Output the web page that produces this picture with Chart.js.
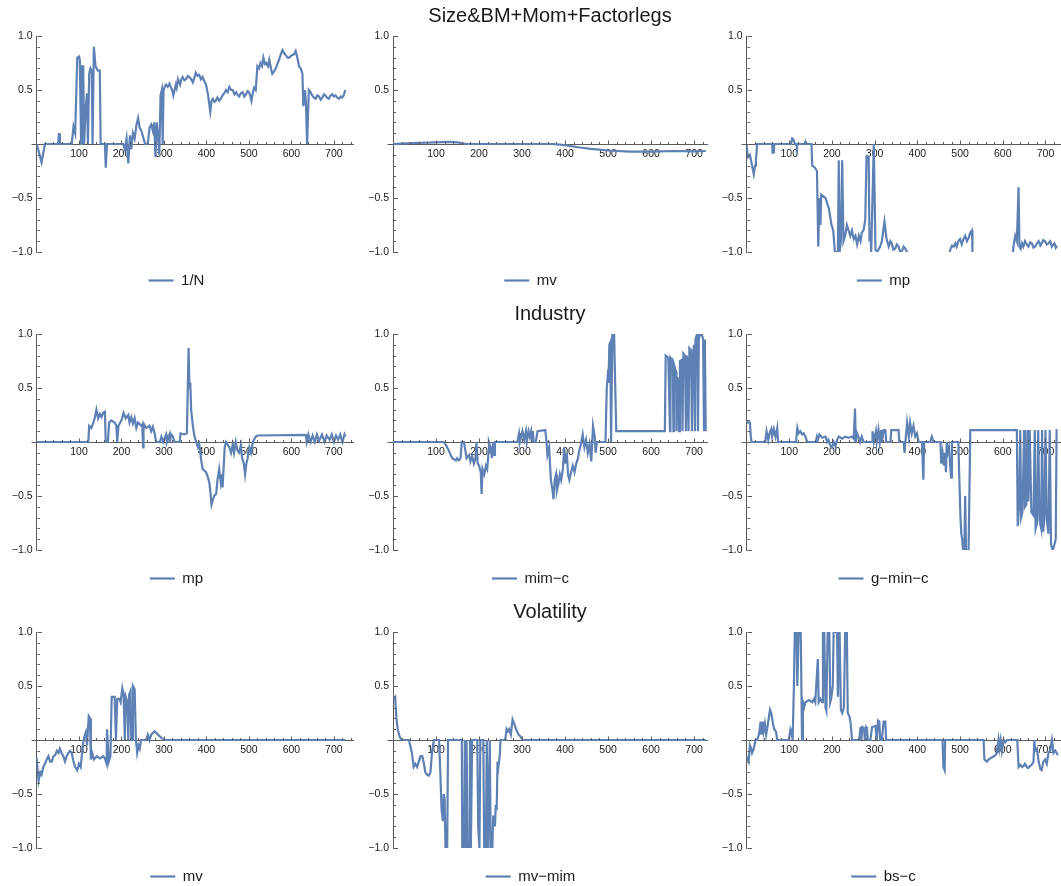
<!DOCTYPE html>
<html><head><meta charset="utf-8">
<script src="https://cdn.jsdelivr.net/npm/chart.js@4.4.1/dist/chart.umd.min.js"></script>
<style>
html,body{margin:0;padding:0;background:#fff;}
#wrap{position:relative;width:1061px;height:886px;overflow:hidden;background:#fff;}
.cell{position:absolute;width:354px;height:298px;}
</style></head><body><div id="wrap"></div>
<script>
// ---- data ----
const rowTitles = ['Size&BM+Mom+Factorlegs', 'Industry', 'Volatility'];
const seriesNames = ['1/N', 'mv', 'mp', 'mp', 'mim\u2212c', 'g\u2212min\u2212c', 'mv', 'mv\u2212mim', 'bs\u2212c'];
const xTickValues = [100, 200, 300, 400, 500, 600, 700];
const yTickValues = [-1, -0.5, 0.5, 1];
const yTickLabels = ['\u22121.0', '\u22120.5', '0.5', '1.0'];

const sizeBM_1N = [[0,0],[4,-0.05],[12,-0.17],[16,-0.08],[20,0],[51,0],[53,0.1],[55,0],[83,0],[87,0.16],[91,0.1],[96,0.8],[100,0.81],[102,0.78],[105,0],[107,0.72],[110,0.72],[112,0],[116,0.35],[119,0.47],[121,0],[124,0.65],[127,0.7],[130,0.68],[132,0],[135,0.9],[139,0.72],[144,0.68],[149,0.68],[151,0],[161,0],[163,-0.22],[166,0],[204,0],[208,-0.05],[212,0.05],[216,-0.18],[220,0.08],[223,-0.05],[227,0.1],[231,0.05],[235,0.17],[239,0.24],[243,0.15],[247,0.12],[252,0.05],[256,0],[262,0],[266,0.15],[270,0.18],[274,0.12],[277,0.2],[280,-0.12],[283,0.2],[286,0.08],[289,-0.1],[292,0.45],[295,0.5],[297,0],[299,0.5],[302,0.53],[305,0.55],[309,0.53],[313,0.56],[317,0.52],[320,0.49],[322,0.45],[325,0.5],[328,0.55],[330,0.52],[333,0.6],[336,0.57],[338,0.55],[341,0.6],[344,0.62],[348,0.59],[352,0.6],[356,0.63],[360,0.62],[364,0.6],[368,0.57],[372,0.62],[375,0.66],[379,0.63],[383,0.64],[387,0.6],[391,0.62],[395,0.58],[399,0.55],[404,0.45],[409,0.3],[412,0.4],[415,0.42],[419,0.39],[422,0.4],[426,0.43],[430,0.4],[434,0.42],[438,0.45],[442,0.47],[446,0.5],[450,0.48],[454,0.53],[458,0.5],[462,0.5],[466,0.46],[470,0.48],[474,0.45],[477,0.44],[481,0.47],[485,0.48],[489,0.44],[493,0.46],[497,0.49],[500,0.48],[503,0.45],[506,0.4],[509,0.47],[512,0.52],[516,0.5],[520,0.72],[524,0.7],[527,0.75],[531,0.72],[534,0.8],[538,0.74],[541,0.75],[545,0.72],[548,0.78],[552,0.7],[555,0.65],[559,0.67],[563,0.7],[567,0.74],[571,0.78],[575,0.83],[579,0.87],[583,0.84],[587,0.82],[591,0.8],[595,0.8],[600,0.82],[606,0.83],[610,0.86],[614,0.8],[618,0.72],[622,0.7],[626,0.65],[628,0.35],[632,0.5],[634,0.4],[637,0],[641,0.5],[645,0.48],[649,0.45],[653,0.43],[657,0.42],[661,0.45],[665,0.44],[669,0.41],[673,0.43],[677,0.46],[680,0.45],[684,0.43],[688,0.42],[692,0.45],[696,0.46],[700,0.44],[704,0.45],[708,0.43],[712,0.42],[716,0.44],[719,0.43],[723,0.45],[727,0.5]];

const sizeBM_mv = [[0,0],[30,0.005],[60,0.01],[100,0.015],[130,0.02],[150,0.015],[170,0],[370,0],[400,-0.01],[430,-0.03],[460,-0.045],[500,-0.06],[550,-0.07],[600,-0.07],[650,-0.065],[700,-0.068],[727,-0.065]];

const sizeBM_mp = [[0,0],[3,-0.12],[8,-0.1],[13,-0.2],[17,-0.28],[20,-0.2],[22,-0.15],[25,0],[60,0],[61,-0.08],[64,-0.08],[65,0],[104,0],[107,0.05],[110,0.04],[113,0],[116,0],[118,-0.03],[120,0],[136,0],[138,0.02],[140,0],[152,0],[154,-0.2],[160,-0.22],[165,-0.25],[168,-0.95],[171,-0.5],[173,-0.75],[175,-0.47],[185,-0.5],[193,-0.6],[199,-0.75],[203,-0.8],[207,-1.0],[214,-1.0],[216,-0.15],[218,-1.0],[221,-0.9],[224,-0.15],[227,-0.9],[231,-0.85],[235,-0.75],[239,-0.8],[243,-0.85],[247,-0.8],[251,-0.88],[255,-0.85],[259,-0.93],[263,-0.85],[267,-0.9],[270,-0.82],[274,-0.8],[278,-0.7],[281,-0.12],[286,-0.12],[288,-0.9],[290,-0.8],[292,-1.0],[298,0],[302,-0.98],[306,-1.0],[313,-0.95],[317,-0.9],[323,-0.72],[328,-0.88],[333,-0.95],[337,-0.9],[340,-0.92],[344,-0.98],[348,-0.97],[352,-0.93],[356,-0.95],[360,-1.0],[364,-0.99],[368,-0.95],[372,-0.97],[376,-1.0],[380,-1.1],[470,-1.1],[477,-0.98],[481,-0.94],[485,-0.95],[489,-0.92],[492,-0.95],[496,-0.9],[500,-0.88],[504,-0.93],[508,-0.88],[512,-0.85],[516,-0.9],[520,-0.87],[524,-0.82],[528,-0.8],[529,-1.0],[532,-1.1],[622,-1.1],[625,-0.95],[629,-0.85],[633,-0.9],[637,-0.4],[639,-0.95],[642,-0.97],[645,-0.92],[648,-0.95],[652,-0.9],[656,-0.93],[660,-0.95],[664,-0.91],[668,-0.92],[672,-0.96],[676,-0.95],[680,-0.92],[684,-0.9],[688,-0.94],[691,-0.92],[695,-0.89],[699,-0.9],[703,-0.93],[707,-0.92],[711,-0.9],[715,-0.95],[718,-0.93],[721,-0.92],[724,-0.96],[727,-0.94]];

const industry_mp = [[0,0],[122,0],[124,0.15],[129,0.13],[133,0.17],[137,0.22],[141,0.3],[145,0.22],[149,0.26],[153,0.23],[157,0.27],[161,0.28],[163,0],[168,0],[171,0.18],[176,0.2],[184,0.18],[188,0.15],[190,0],[193,0.15],[200,0.2],[205,0.27],[210,0.22],[216,0.25],[219,0.18],[223,0.23],[227,0.17],[231,0.22],[235,0.13],[239,0.18],[247,0.15],[249,0.16],[251,-0.05],[252,0.17],[258,0.13],[266,0.15],[270,0.1],[274,0.14],[278,0.08],[282,0],[290,0],[294,0.05],[298,0],[305,0.07],[307,0],[313,0.07],[314,0],[317,0.07],[321,0.05],[325,0],[337,0],[339,0.08],[348,0.07],[354,0.08],[358,0.87],[360,0.5],[362,0.55],[364,0.3],[368,0.15],[372,0.05],[376,0],[380,-0.05],[383,-0.02],[387,-0.15],[391,-0.25],[399,-0.28],[403,-0.32],[407,-0.38],[409,-0.45],[412,-0.58],[418,-0.5],[423,-0.48],[426,-0.35],[430,-0.25],[434,-0.38],[437,-0.3],[438,-0.42],[443,-0.05],[446,0],[454,-0.05],[458,-0.1],[462,-0.02],[465,-0.1],[469,0],[473,-0.08],[477,-0.1],[481,-0.03],[484,-0.15],[488,-0.2],[491,-0.3],[494,-0.2],[497,-0.15],[501,-0.05],[505,-0.1],[509,0],[516,0.05],[520,0.06],[634,0.065],[636,0],[640,0.07],[645,0],[650,0.06],[655,0],[660,0.07],[665,0.01],[672,0.07],[678,0],[683,0.06],[690,0.02],[695,0.07],[700,0],[705,0.06],[710,0.02],[715,0.07],[720,0],[725,0.07],[727,0.05]];

const industry_mimc = [[0,0],[118,0],[122,-0.02],[130,-0.08],[134,-0.12],[138,-0.15],[146,-0.17],[149,-0.15],[153,-0.17],[157,-0.15],[160,0],[165,0],[167,-0.05],[171,-0.15],[177,-0.12],[180,-0.18],[184,-0.13],[188,-0.2],[192,-0.15],[194,0],[197,-0.2],[200,-0.22],[204,-0.28],[206,-0.48],[208,-0.25],[212,-0.3],[216,-0.22],[219,-0.25],[222,-0.1],[223,0],[227,-0.05],[230,-0.15],[233,0],[235,-0.12],[237,0],[289,0],[293,0.08],[295,0],[301,0.1],[305,0.02],[309,0.1],[311,0],[315,0.1],[318,0.05],[321,0.1],[323,0],[325,0.1],[327,0],[332,0],[336,0.1],[354,0.11],[357,0],[359,-0.12],[363,-0.05],[367,-0.35],[371,-0.45],[373,-0.53],[376,-0.35],[379,-0.3],[381,-0.45],[385,-0.38],[388,-0.3],[391,-0.35],[395,-0.25],[398,-0.05],[401,-0.2],[404,-0.1],[407,-0.3],[410,-0.35],[414,-0.28],[418,-0.22],[422,-0.28],[426,-0.2],[430,-0.15],[433,-0.08],[437,-0.02],[441,0.07],[445,-0.05],[449,0.02],[453,-0.1],[457,-0.02],[461,-0.18],[465,0.15],[469,0.05],[471,-0.1],[474,0],[494,0],[497,0.5],[499,0.6],[501,0.55],[503,0.9],[505,0.92],[507,0],[510,1.0],[514,1.0],[519,0.1],[632,0.1],[634,0.8],[640,0.78],[644,0.1],[645,0.78],[650,0.75],[652,0.1],[653,0.72],[658,0.65],[659,0.1],[661,0.6],[663,0.55],[665,0.1],[667,0.75],[671,0.76],[673,0.1],[675,0.82],[679,0.8],[681,0.1],[683,0.8],[685,0.7],[687,0.1],[689,0.87],[693,0.85],[695,0.1],[697,0.8],[700,0.9],[702,0.1],[703,0.95],[707,1.0],[709,0.1],[711,0.95],[714,1.0],[718,1.0],[721,0.95],[723,0.1],[725,0.95],[727,0.1]];

const industry_gminc = [[0,0.2],[3,0.18],[8,0.18],[10,0.05],[12,0],[44,0],[47,0.1],[51,0.02],[54,0.08],[58,0.12],[60,0.05],[64,0.12],[68,0.05],[72,0.13],[74,0],[116,0],[119,0.13],[122,0.08],[126,0.1],[130,0.07],[134,0.08],[138,0.05],[142,0],[162,0],[165,0.05],[167,0.02],[171,0.07],[177,0.04],[185,0.05],[189,0],[192,0.02],[196,-0.03],[200,-0.05],[204,0],[208,-0.04],[212,0.02],[216,0.05],[224,0.03],[231,0.05],[239,0.04],[247,0.05],[251,0.03],[254,0.31],[256,0],[259,0.08],[262,0.05],[266,0],[270,0.05],[274,0],[294,0],[295,0.1],[298,0],[303,0.1],[305,0],[309,0.11],[312,0],[315,0.11],[317,0],[321,0.11],[325,0.11],[327,0],[337,0],[339,0.11],[356,0.11],[358,0],[368,0],[370,-0.1],[372,0],[376,0.18],[380,0.05],[383,0.18],[387,0.08],[391,0.15],[395,0.05],[399,0.08],[403,0],[411,0],[414,-0.35],[416,0],[430,0],[434,0.05],[438,0],[454,0],[456,-0.2],[459,-0.1],[462,-0.22],[464,-0.1],[467,-0.28],[469,0],[471,-0.1],[474,-0.05],[479,-0.33],[481,0],[496,0],[498,-0.3],[501,-0.7],[503,-0.85],[505,-0.9],[507,-1.0],[510,-1.0],[512,-0.5],[514,-1.0],[520,-1.0],[524,0.11],[633,0.11],[635,-0.78],[638,-0.6],[641,0.11],[643,-0.7],[646,-0.65],[650,0.11],[652,-0.6],[655,-0.58],[658,0.11],[660,-0.55],[663,0.11],[667,-0.65],[672,-0.68],[675,0.11],[677,-0.8],[680,-0.75],[683,0.11],[686,-0.72],[690,-0.8],[692,0.11],[695,-0.83],[698,-0.65],[700,0.11],[703,-0.72],[707,-0.85],[710,0.11],[713,-0.95],[717,-1.0],[721,-0.95],[724,-0.9],[726,0.11],[728,0.11]];

const vol_mv = [[0,-0.16],[5,-0.38],[9,-0.3],[12,-0.32],[16,-0.25],[20,-0.22],[24,-0.18],[28,-0.15],[32,-0.2],[36,-0.2],[40,-0.15],[44,-0.14],[48,-0.1],[52,-0.12],[55,-0.08],[59,-0.12],[63,-0.15],[67,-0.2],[71,-0.15],[75,-0.12],[79,-0.1],[83,-0.12],[87,-0.2],[91,-0.25],[96,-0.28],[100,-0.22],[104,-0.25],[109,-0.05],[112,0.02],[116,0.07],[119,-0.05],[123,0.22],[126,0.2],[128,-0.18],[131,-0.12],[135,-0.18],[142,-0.15],[149,-0.17],[157,-0.15],[161,-0.17],[165,-0.22],[166,0.1],[170,-0.2],[174,-0.15],[177,0.4],[184,0.4],[187,0],[190,0.38],[195,0.38],[198,0.35],[202,0.48],[205,0.42],[208,0],[210,0.4],[214,0.35],[216,0],[218,0.42],[221,0.45],[223,0],[225,0],[227,0.5],[231,0.47],[234,0],[237,-0.12],[240,-0.05],[243,-0.08],[246,0],[258,0],[262,0.05],[266,0],[270,0.05],[278,0.08],[286,0.05],[294,0.02],[302,0],[727,0]];

const vol_mvmim = [[0,0.38],[5,0.4],[8,0.2],[11,0.1],[14,0.05],[17,0.02],[21,0],[37,0],[40,-0.05],[44,-0.12],[48,-0.25],[52,-0.22],[56,-0.25],[60,-0.2],[64,-0.15],[68,-0.15],[72,-0.22],[75,-0.3],[79,-0.32],[83,-0.33],[87,-0.3],[91,-0.1],[95,0],[107,0],[110,-0.3],[113,-0.65],[116,-0.75],[118,-0.5],[120,-0.55],[122,-1.0],[126,-1.0],[128,0],[160,0],[161,-1.0],[165,-1.0],[167,0],[169,-1.0],[171,0],[174,-1.0],[177,-1.0],[179,0],[181,-1.0],[184,0],[196,0],[198,-0.8],[201,-1.0],[203,0],[210,0],[212,-1.0],[216,-1.0],[218,0],[221,-1.0],[225,0],[227,-1.0],[231,-1.0],[233,-0.7],[237,-0.8],[239,-0.6],[241,-0.65],[243,-0.2],[245,-0.25],[248,-0.15],[250,0],[261,0],[264,0.1],[267,0.08],[270,0.1],[274,0.05],[278,0.19],[282,0.15],[286,0.1],[292,0.05],[297,0.03],[301,0],[727,0]];

const vol_bsc = [[0,-0.15],[5,-0.2],[8,-0.05],[11,-0.08],[13,-0.12],[17,-0.08],[21,0],[25,0],[29,0.05],[31,0.1],[33,0.17],[35,0.05],[38,0.17],[40,0.08],[43,0.15],[46,0.05],[49,0.12],[52,0.2],[55,0.28],[58,0.25],[62,0.15],[65,0.1],[69,0.08],[72,0],[99,0],[103,0.1],[105,0.08],[108,0],[111,0.5],[113,1.0],[117,1.0],[119,0.5],[122,1.0],[127,1.0],[130,0],[132,0.35],[135,0.3],[138,0.35],[146,0.37],[154,0.35],[158,0.38],[161,0.35],[167,0.75],[169,0.35],[173,0.38],[177,0.35],[179,1.0],[182,1.0],[185,0.3],[187,0.27],[190,1.0],[194,1.0],[196,0.35],[198,0.38],[202,0.5],[204,1.0],[212,1.0],[214,0.4],[216,0.9],[218,1.0],[221,0.28],[224,0.25],[228,0.3],[231,1.0],[235,1.0],[237,0.25],[241,0.22],[244,0.15],[247,0],[264,0],[267,0.12],[269,0],[271,0.12],[275,0.11],[277,0],[280,0.12],[282,0.11],[284,0],[290,0],[294,0.12],[302,0.13],[305,0],[308,0.18],[311,0.17],[313,0],[317,0],[321,0.17],[325,0.17],[327,0],[459,0],[461,-0.25],[464,-0.28],[465,0],[555,0],[557,-0.18],[563,-0.2],[567,-0.18],[571,-0.17],[575,-0.16],[579,-0.15],[583,-0.14],[586,-0.12],[590,0],[592,-0.08],[595,0],[598,-0.1],[602,0],[606,-0.02],[610,0],[634,0],[637,-0.25],[641,-0.23],[645,-0.25],[649,-0.24],[652,-0.22],[656,-0.25],[660,-0.26],[664,-0.24],[668,-0.23],[672,-0.2],[674,0],[676,-0.1],[680,-0.08],[684,-0.2],[688,-0.27],[691,-0.28],[695,-0.2],[699,-0.18],[703,-0.22],[707,-0.12],[711,-0.1],[715,0],[719,-0.12],[723,-0.1],[729,-0.14]];

const panelSeries = [sizeBM_1N, sizeBM_mv, sizeBM_mp, industry_mp, industry_mimc, industry_gminc, vol_mv, vol_mvmim, vol_bsc];

// ---- layout / style ----
const LINE = '#5E81B5';
const AXIS = '#5a5a5a';
const TXT = '#1a1a1a';
const FONT = '"Liberation Sans", Arial, Helvetica, sans-serif';
const CELL_W = 354, CELL_H = 298, COL_STEP = 353.67;
const colAxisWidth = [36.5, 39, 39.5];
const colXMax = [745, 730, 734];

const axisTicks = {
  id: 'axisTicks',
  afterDraw(chart) {
    const {ctx, scales} = chart;
    const xs = scales.x, ys = scales.y;
    const y0 = Math.round(ys.getPixelForValue(0)) + 0.5;
    const x0 = Math.round(xs.getPixelForValue(0)) + 0.5;
    ctx.save();
    ctx.strokeStyle = AXIS;
    ctx.lineWidth = 1;
    ctx.beginPath();
    ctx.moveTo(x0 - 6, y0); ctx.lineTo(x0, y0);
    for (let v = 20; v <= xs.max; v += 20) {
      const px = Math.round(xs.getPixelForValue(v)) + 0.5;
      const len = v % 100 === 0 ? 4 : 2.5;
      ctx.moveTo(px, y0); ctx.lineTo(px, y0 - len);
    }
    for (let k = -10; k <= 10; k++) {
      if (k === 0) continue;
      const py = Math.round(ys.getPixelForValue(k / 10)) + 0.5;
      const len = k % 5 === 0 ? 4.5 : 2.5;
      ctx.moveTo(x0, py); ctx.lineTo(x0 + len, py);
    }
    ctx.stroke();
    ctx.restore();
  }
};

const wrap = document.getElementById('wrap');
panelSeries.forEach((series, i) => {
  const row = Math.floor(i / 3), col = i % 3;
  const div = document.createElement('div');
  div.className = 'cell';
  div.style.left = Math.round(col * COL_STEP) + 'px';
  div.style.top = (row * CELL_H) + 'px';
  const cv = document.createElement('canvas');
  cv.width = CELL_W; cv.height = CELL_H;
  cv.style.width = CELL_W + 'px'; cv.style.height = CELL_H + 'px';
  div.appendChild(cv);
  wrap.appendChild(div);
  new Chart(cv, {
    type: 'line',
    data: {
      datasets: [{
        label: seriesNames[i],
        data: series.map(p => ({x: p[0], y: p[1]})),
        borderColor: LINE,
        backgroundColor: LINE,
        borderWidth: 2.2,
        pointRadius: 0,
        tension: 0,
        fill: false
      }]
    },
    options: {
      responsive: false,
      animation: false,
      events: [],
      layout: {padding: {top: col === 1 ? 0 : 36, bottom: 0, left: 0, right: 1}},
      scales: {
        x: {
          type: 'linear', min: 0, max: colXMax[col], position: {y: 0}, z: 1,
          afterBuildTicks: s => { s.ticks = xTickValues.map(v => ({value: v})); },
          afterFit: s => { s.height = 0; },
          grid: {display: false, drawTicks: false},
          border: {display: true, color: AXIS, width: 1},
          ticks: {autoSkip: false, maxRotation: 0, padding: 4, color: TXT, font: {family: FONT, size: 10.5}}
        },
        y: {
          type: 'linear', min: -1, max: 1, position: 'left', z: 1,
          afterBuildTicks: s => { s.ticks = yTickValues.map(v => ({value: v})); },
          afterFit: s => { s.width = colAxisWidth[col]; },
          grid: {display: false, drawTicks: false},
          border: {display: true, color: AXIS, width: 1},
          ticks: {autoSkip: false, padding: 4, color: TXT, font: {family: FONT, size: 10.5},
            callback: v => { const k = yTickValues.indexOf(v); return k >= 0 ? yTickLabels[k] : ''; }}
        }
      },
      plugins: {
        legend: {
          display: true, position: 'bottom',
          labels: {usePointStyle: true, pointStyle: 'line', pointStyleWidth: 25, color: TXT,
            font: {family: FONT, size: 15}, padding: 21}
        },
        title: {
          display: col === 1, text: rowTitles[row], fullSize: false, color: TXT,
          font: {family: FONT, size: 20, weight: 'normal'}, padding: {top: 4, bottom: 8}
        },
        tooltip: {enabled: false}
      }
    },
    plugins: [axisTicks]
  });
});
</script></body></html>
